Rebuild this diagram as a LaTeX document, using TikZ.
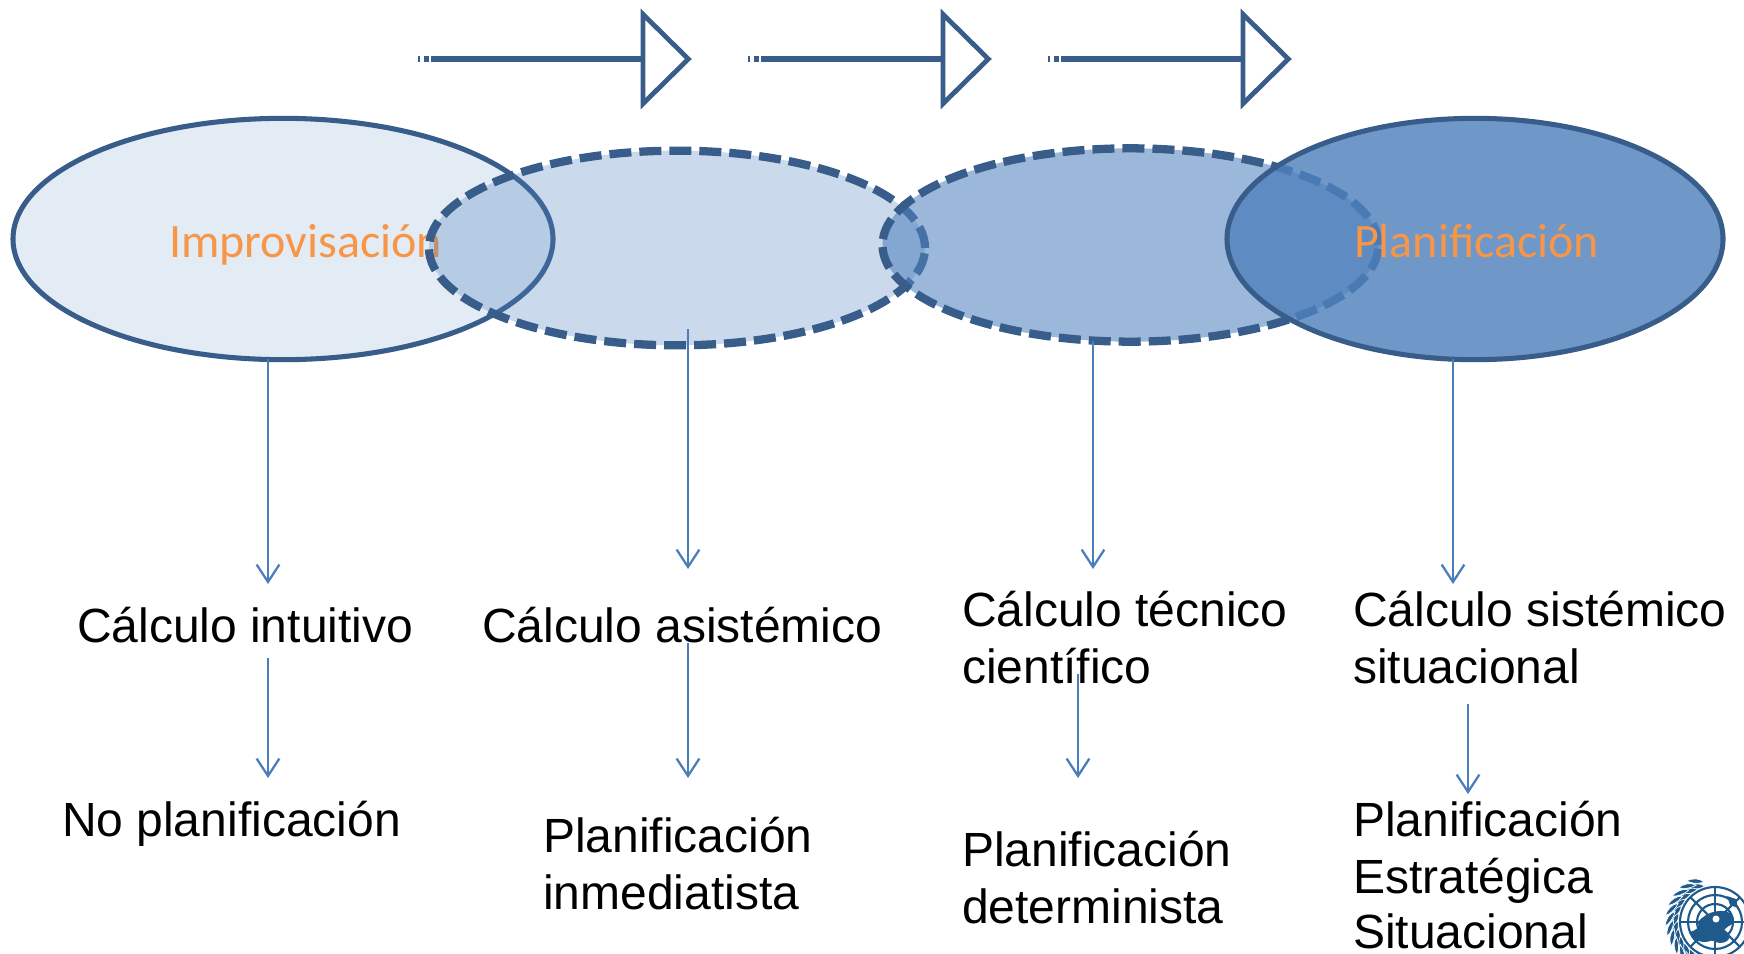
\documentclass[tikz,border=0pt]{standalone}
\usepackage{fontspec}
\usetikzlibrary{shapes.geometric,arrows.meta}
\setmainfont{Liberation Sans}
\newfontfamily\carl{Carlito}
\definecolor{edge}{HTML}{385D8A}
\definecolor{acc}{HTML}{4F81BD}
\definecolor{wire}{HTML}{4A7EBB}
\definecolor{orng}{HTML}{F79646}
\definecolor{unb}{HTML}{1F5A8C}
\tikzset{
 x=0.75pt,y=-0.75pt,
 oval/.style={ellipse,inner sep=0,outer sep=0,draw=edge},
 solidoval/.style={oval,line width=3.8pt},
 dashoval/.style={oval,line width=6.2pt,dash pattern=on 16.5pt off 6pt},
 label/.style={anchor=base west,inner sep=0,outer sep=0,font=\fontsize{36}{36}\selectfont,text=black},
 orange/.style={anchor=base west,inner sep=0,outer sep=0,font=\carl\fontsize{36}{36}\selectfont,text=orng},
 down/.style={draw=wire,line width=1.7pt,-{Straight Barb[length=13pt,width=17pt,line width=1.7pt]}},
 head/.style={isosceles triangle,isosceles triangle stretches,minimum width=67pt,minimum height=34pt,inner sep=0,outer sep=0,draw=edge,line width=3.6pt,fill=white,anchor=lower side},
 shaft/.style={draw=edge,line width=3.8pt},
 unl/.style={draw=unb,line width=1.6pt},
 leaf/.style={fill=unb,draw=white,line width=.5pt},
}
\begin{document}
\begin{tikzpicture}
\path[use as bounding box] (0,0) rectangle (1744,953);
\clip (0,0) rectangle (1744,953);
% ellipses
\node[solidoval,fill=acc,fill opacity=.16,minimum width=405pt,minimum height=181pt] (e1) at (283,239) {};
\node[orange] (timp) at (169,257) {Improvisación};
\node[dashoval,fill=acc,fill opacity=.3,minimum width=372pt,minimum height=146pt] (e2) at (677,248) {};
\node[dashoval,fill=acc,fill opacity=.57,minimum width=372pt,minimum height=145pt] (e3) at (1130.5,245) {};
\node[solidoval,fill=acc,fill opacity=.82,minimum width=372pt,minimum height=181pt] (e4) at (1475,239) {};
\node[orange] (tpla) at (1354,257) {Planificación};
% top arrows
\foreach \n/\xa/\xb in {1/418/643,2/748/943,3/1048/1243}{
  \node[head] (h\n) at (\xb,59) {};
  \coordinate (s\n) at (\xa,59);
  \coordinate (m\n) at (\xa+15,59);
  \draw[shaft] (m\n) -- (h\n.west);
  \draw[shaft,dash pattern=on 1.6pt off 2.6pt on 3.8pt off 2pt] (s\n) -- (m\n);
}
% labels
\node[label] (a1) at (77,642) {Cálculo intuitivo};
\node[label] (a2) at (482,642) {Cálculo asistémico};
\node[label] (a3) at (962,626) {Cálculo técnico};
\node[label] (a3b) at (962,683) {científico};
\node[label] (a4) at (1353,626) {Cálculo sistémico};
\node[label] (a4b) at (1353,683) {situacional};
\node[label] (b1) at (62,836) {No planificación};
\node[label] (b2) at (543,852) {Planificación};
\node[label] (b2b) at (543,909) {inmediatista};
\node[label] (b3) at (962,866) {Planificación};
\node[label] (b3b) at (962,923) {determinista};
\node[label] (b4) at (1353,836) {Planificación};
\node[label] (b4b) at (1353,893) {Estratégica};
\node[label] (b4c) at (1353,948) {Situacional};
% vertical arrows
\foreach \n/\x/\ya/\yb in {p1/268/359/584,p2/688/329/569,p3/1093/341/569,p4/1453/359/584,q1/268/658/778,q2/688/643/778,q3/1078/674/778,q4/1468/704/794}{
  \coordinate (\n s) at (\x,\ya);
  \coordinate (\n e) at (\x,\yb);
  \draw[down] (\n s) -- (\n e);
}
% emblem
\begin{scope}
\foreach \r in {9,18,27,35}{\draw[unl] (1715,922) circle[radius=\r];}
\foreach \a in {0,45,...,315}{\draw[unl] (1715,922) -- ++(\a:35);}
\fill[unb] (1698,922) .. controls (1705,912) and (1726,906) .. (1733,916) .. controls (1737,926) and (1728,924) .. (1724,930) .. controls (1738,938) and (1722,948) .. (1712,940) .. controls (1705,945) and (1690,940) .. (1690,932) .. controls (1696,930) and (1700,928) .. (1698,922) -- cycle;
\fill[white] (1716,919) circle[radius=3.5];
\fill[unb] (1727,896) -- (1736,899) -- (1738,908) -- (1730,905) -- cycle;
\foreach \a in {112,124,...,232}{
  \path[leaf,shift={(1715,922)},rotate=\a] (37,4) .. controls (36,-5) and (39,-10) .. (42,-13) .. controls (44,-7) and (43,0) .. (37,4) -- cycle;
  \path[leaf,shift={(1715,922)},rotate=\a] (41,5) .. controls (42,-3) and (45,-8) .. (49,-11) .. controls (49,-5) and (47,2) .. (41,5) -- cycle;
}
\end{scope}
\end{tikzpicture}
\end{document}
